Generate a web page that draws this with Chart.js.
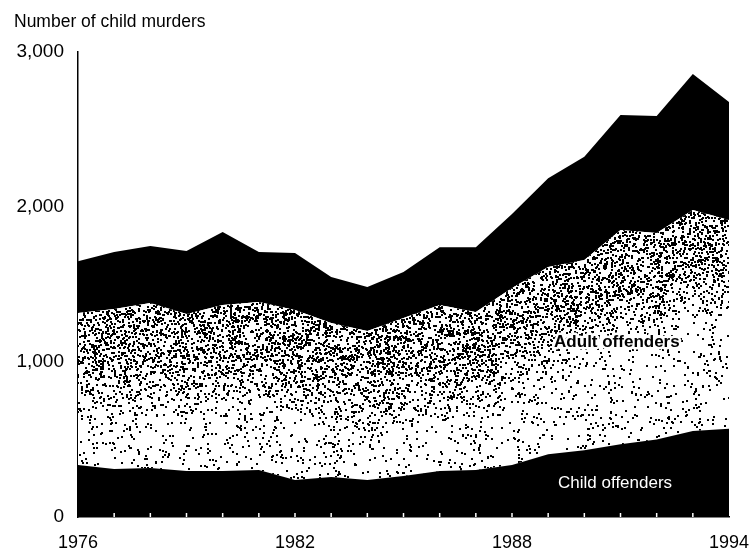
<!DOCTYPE html>
<html>
<head>
<meta charset="utf-8">
<script src="https://cdn.jsdelivr.net/npm/chart.js@4.4.1/dist/chart.umd.min.js"></script>
<style>
  html, body { margin: 0; padding: 0; background: #ffffff; }
  #chart { display: block; }
</style>
</head>
<body>
<canvas id="chart" width="749" height="555"></canvas>
<script>
const years = ["1976", "1977", "1978", "1979", "1980", "1981", "1982", "1983", "1984", "1985",
  "1986", "1987", "1988", "1989", "1990", "1991", "1992", "1993", "1994"];
const shownYears = ["1976", "1982", "1988", "1994"];

// stacked from the bottom up
const childOffenders = [335, 310, 316, 297, 297, 303, 239, 258, 239, 265,
  297, 303, 335, 405, 430, 470, 500, 555, 570];
const adultOffenders = [981, 1032, 1065, 1013, 1071, 1084, 1096, 994, 961, 1019,
  1071, 1020, 1142, 1208, 1228, 1382, 1332, 1426, 1346];
const unknownOffenders = [334, 368, 367, 406, 471, 323, 368, 296, 284, 297,
  372, 417, 478, 572, 667, 742, 755, 877, 761];

const yTicks = [0, 1000, 2000, 3000];

const fontFamily = "'Liberation Sans', Arial, Helvetica, sans-serif";

// texture noise for the stipple, not data
function hash(i, j) {
  const s = Math.sin(i * 12.9898 + j * 78.233) * 43758.5453;
  return s - Math.floor(s);
}

let stipple = null;

// dots are packed just under the top of the adult band and thin out below it
function getStipple(chart) {
  if (stipple) return stipple;
  const xScale = chart.scales.x;
  const yScale = chart.scales.y;
  const edge = years.map((_, i) => ({
    x: xScale.getPixelForValue(i),
    y: yScale.getPixelForValue(childOffenders[i] + adultOffenders[i])
  }));
  const tile = document.createElement("canvas");
  tile.width = chart.width;
  tile.height = chart.height;
  const tctx = tile.getContext("2d");
  tctx.fillStyle = "#ffffff";
  tctx.fillRect(0, 0, tile.width, tile.height);
  tctx.fillStyle = "#000000";
  for (let x = 0; x < tile.width; x++) {
    let k = 0;
    while (k < edge.length - 2 && edge[k + 1].x < x) k++;
    const a = edge[k];
    const b = edge[k + 1];
    const t = Math.min(1, Math.max(0, (x - a.x) / (b.x - a.x)));
    const top = a.y + (b.y - a.y) * t;
    for (let y = 0; y < tile.height; y++) {
      const d = y - top;
      let density;
      if (d < 45) density = 0.11;
      else if (d < 115) density = 0.11 - (d - 45) * 0.0013;
      else density = 0.02;
      if (hash(x, y) < density) {
        tctx.fillRect(x, y, 2, 2);
      }
    }
  }
  stipple = tctx.createPattern(tile, "no-repeat");
  return stipple;
}

const labelPlugin = {
  id: "labelPlugin",
  afterDatasetsDraw(chart) {
    const ctx = chart.ctx;
    const xScale = chart.scales.x;
    const yScale = chart.scales.y;
    const area = chart.chartArea;

    ctx.save();
    // small year marks along the baseline
    ctx.strokeStyle = "#ffffff";
    ctx.lineWidth = 1.5;
    years.forEach((_, i) => {
      if (i === 0 || i === years.length - 1) return;
      const x = xScale.getPixelForValue(i);
      ctx.beginPath();
      ctx.moveTo(x, area.bottom);
      ctx.lineTo(x, area.bottom - 4);
      ctx.stroke();
    });

    ctx.textAlign = "center";
    ctx.textBaseline = "middle";
    ctx.font = "bold 17px " + fontFamily;
    const ax = xScale.getPixelForValue(14.9);
    const ay = yScale.getPixelForValue(1130);
    ctx.strokeStyle = "#ffffff";
    ctx.lineWidth = 5;
    ctx.lineJoin = "round";
    ctx.strokeText("Adult offenders", ax, ay);
    ctx.fillStyle = "#000000";
    ctx.fillText("Adult offenders", ax, ay);

    ctx.fillStyle = "#ffffff";
    ctx.font = "17px " + fontFamily;
    ctx.fillText("Child offenders", xScale.getPixelForValue(14.85), yScale.getPixelForValue(220));

    ctx.fillStyle = "#000000";
    ctx.textAlign = "left";
    ctx.font = "17.5px " + fontFamily;
    ctx.fillText("Number of child murders", 14, 22);
    ctx.restore();
  }
};

const chart = new Chart(document.getElementById("chart"), {
  type: "line",
  data: {
    labels: years,
    datasets: [
      {
        label: "Child offenders",
        data: childOffenders,
        backgroundColor: "#000000",
        fill: "origin"
      },
      {
        label: "Adult offenders",
        data: adultOffenders,
        backgroundColor(context) {
          if (!context.chart.chartArea) return "#dddddd";
          return getStipple(context.chart);
        },
        fill: "-1"
      },
      {
        label: "Unknown offenders",
        data: unknownOffenders,
        backgroundColor: "#000000",
        fill: "-1"
      }
    ]
  },
  options: {
    responsive: false,
    animation: false,
    layout: {
      padding: { top: 52, right: 20, left: 0, bottom: 0 }
    },
    elements: {
      line: { borderWidth: 0, tension: 0 },
      point: { radius: 0 }
    },
    plugins: {
      legend: { display: false },
      tooltip: { enabled: false }
    },
    scales: {
      x: {
        offset: false,
        grid: { display: false, drawTicks: false },
        border: { display: true, color: "#000000", width: 1.5 },
        afterFit(scale) {
          scale.height = 38;
          scale.paddingLeft = 0;
          scale.paddingRight = 0;
        },
        ticks: {
          autoSkip: false,
          maxRotation: 0,
          padding: 15,
          color: "#000000",
          font: { family: fontFamily, size: 18 },
          callback(value) {
            const year = years[value];
            return shownYears.includes(year) ? year : "";
          }
        }
      },
      y: {
        stacked: true,
        min: 0,
        max: 3000,
        grid: { display: false, drawTicks: false },
        border: { display: true, color: "#000000", width: 1.5 },
        afterFit(scale) {
          scale.width = 78;
          scale.paddingTop = 0;
          scale.paddingBottom = 0;
        },
        afterBuildTicks(scale) {
          scale.ticks = yTicks.map((v) => ({ value: v }));
        },
        ticks: {
          padding: 14,
          color: "#000000",
          font: { family: fontFamily, size: 19 },
          callback(value) {
            return value.toLocaleString("en-US");
          }
        }
      }
    }
  },
  plugins: [labelPlugin]
});
</script>
</body>
</html>
